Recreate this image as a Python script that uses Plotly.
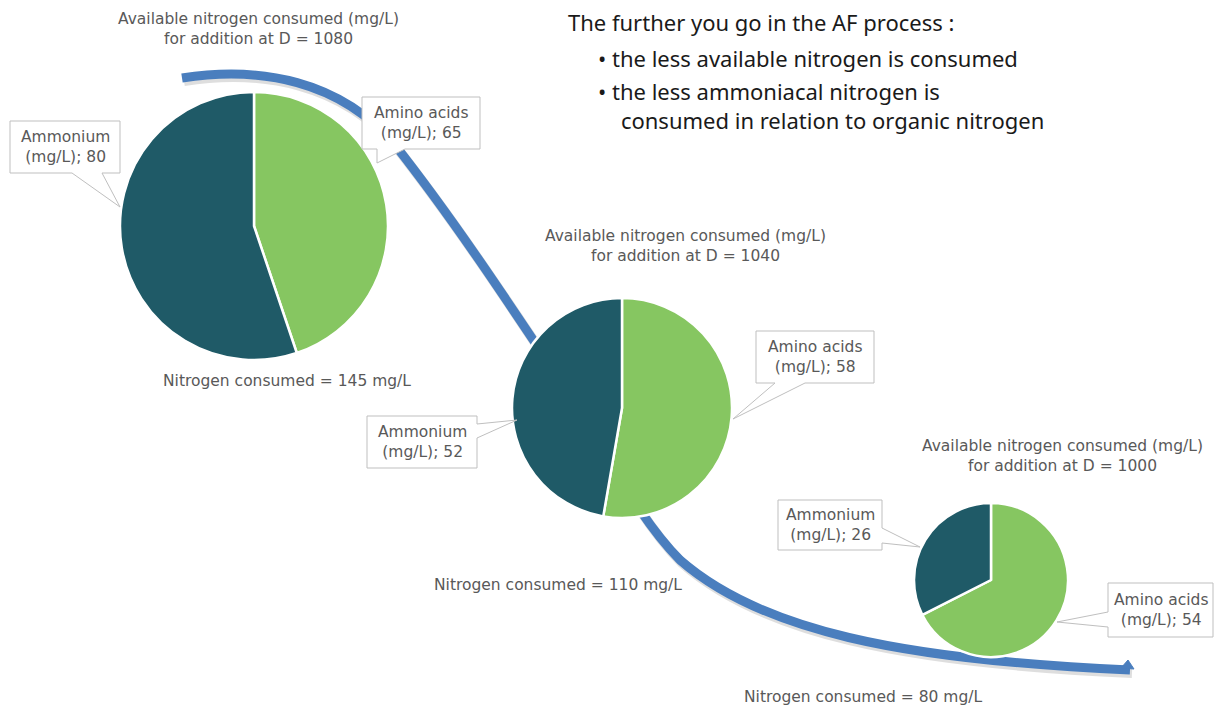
import plotly.graph_objects as go

# --- data ---------------------------------------------------------------
categories = ["Amino acids", "Ammonium"]
density_at_addition = [1080, 1040, 1000]
amino_acids_mg_l = [65, 58, 54]
ammonium_mg_l = [80, 52, 26]

W, H = 1220, 708
DARK = "#1F5A67"
GREEN = "#86C661"
GREY_TXT = "#595959"
BOX_LINE = "#BFBFBF"
CURVE = "#4A7EBE"
LABEL_FONT = dict(family="DejaVu Sans", size=15.5, color=GREY_TXT)

# pie layout: centre (px) and radius (px) for each stage
pie_geom = [(254, 226, 134), (622, 408, 110), (991, 580, 77)]
# title centre x, block centre y ; total label centre x, y
title_pos = [(258, 29), (685, 246), (1062, 456)]
total_pos = [(287, 381), (558, 585), (863, 697)]

# callouts: box (x0, y0, x1, y1), pointer side, base a, base b, tip (x, y)
callouts = [
    # stage 1
    {"Ammonium": ((10, 121, 120, 173), "bottom", 72, 102, (120, 207)),
     "Amino acids": ((362, 97, 480, 149), "bottom", 377, 405, (377, 163))},
    # stage 2
    {"Ammonium": ((367, 416, 477, 468), "right", 424, 438, (517, 420)),
     "Amino acids": ((756, 331, 874, 383), "bottom", 775, 805, (733, 419))},
    # stage 3
    {"Ammonium": ((778, 500, 882, 550), "right", 528, 543, (920, 547)),
     "Amino acids": ((1108, 583, 1213, 637), "left", 612, 627, (1057, 622))},
]


def callout_path(box, side, a, b, tip):
    x0, y0, x1, y1 = box
    tx, ty = tip
    if side == "bottom":
        pts = [(x0, y0), (x1, y0), (x1, y1), (b, y1), (tx, ty), (a, y1), (x0, y1)]
    elif side == "right":
        pts = [(x0, y0), (x1, y0), (x1, a), (tx, ty), (x1, b), (x1, y1), (x0, y1)]
    else:  # left
        pts = [(x0, y0), (x1, y0), (x1, y1), (x0, y1), (x0, b), (tx, ty), (x0, a)]
    return "M " + " L ".join(f"{x},{y}" for x, y in pts) + " Z"


fig = go.Figure()

# invisible pixel-space axes used for decorations and text
fig.add_trace(go.Scatter(x=[], y=[], showlegend=False, hoverinfo="skip"))

shapes = []
annotations = []

# the process curve (shadow, then the blue stroke)
curve_path = ("M 182,78 C 260,66 340,80 395,145 "
              "C 450,215 500,290 560,380 "
              "C 610,460 640,520 680,560 "
              "C 760,630 900,660 1130,670")
shadow_path = ("M 184,81 C 262,69 342,83 397,148 "
               "C 452,218 502,293 562,383 "
               "C 612,463 642,523 682,563 "
               "C 762,633 902,663 1132,673")
shapes.append(dict(type="path", path=shadow_path, xref="x", yref="y", layer="below",
                   line=dict(color="rgba(0,0,0,0.13)", width=10)))
shapes.append(dict(type="path", path=curve_path, xref="x", yref="y", layer="below",
                   line=dict(color=CURVE, width=9)))
shapes.append(dict(type="path", path="M 1121,668 L 1128,660 L 1134,669 Z",
                   xref="x", yref="y", layer="below",
                   fillcolor=CURVE, line=dict(color=CURVE, width=1)))

for i, (cx, cy, r) in enumerate(pie_geom):
    values = [amino_acids_mg_l[i], ammonium_mg_l[i]]
    fig.add_trace(go.Pie(
        labels=categories,
        values=values,
        sort=False,
        direction="clockwise",
        rotation=0,
        marker=dict(colors=[GREEN, DARK], line=dict(color="white", width=2.5)),
        textinfo="none",
        hoverinfo="label+value",
        showlegend=False,
        domain=dict(x=[(cx - r) / W, (cx + r) / W],
                    y=[1 - (cy + r) / H, 1 - (cy - r) / H]),
    ))

    tx, ty = title_pos[i]
    annotations.append(dict(
        x=tx, y=ty, xref="x", yref="y", showarrow=False,
        text=f"Available nitrogen consumed (mg/L)<br>for addition at D = {density_at_addition[i]}",
        font=LABEL_FONT, align="center", xanchor="center", yanchor="middle"))

    total = sum(values)
    sx, sy = total_pos[i]
    annotations.append(dict(
        x=sx, y=sy, xref="x", yref="y", showarrow=False,
        text=f"Nitrogen consumed = {total} mg/L",
        font=LABEL_FONT, xanchor="center", yanchor="middle"))

    for cat, val in zip(categories, values):
        box, side, a, b, tip = callouts[i][cat]
        shapes.append(dict(type="path", path=callout_path(box, side, a, b, tip),
                           xref="x", yref="y", layer="above",
                           fillcolor="white", line=dict(color=BOX_LINE, width=1)))
        x0, y0, x1, y1 = box
        annotations.append(dict(
            x=(x0 + x1) / 2, y=(y0 + y1) / 2, xref="x", yref="y", showarrow=False,
            text=f"{cat}<br>(mg/L); {val}", font=LABEL_FONT,
            align="center", xanchor="center", yanchor="middle"))

# headline notes
NOTE_FONT = dict(family="Noto Sans", size=22, color="#1A1A1A")
INDENT = "&nbsp;" * 4
notes = [
    (566, 22, "The further you go in the AF process :"),
    (596, 58, "\u2022 the less available nitrogen is consumed"),
    (596, 105, "\u2022 the less ammoniacal nitrogen is<br>"
               + INDENT + "consumed in relation to organic nitrogen"),
]
for nx, ny, txt in notes:
    annotations.append(dict(x=nx, y=ny, xref="x", yref="y", showarrow=False,
                            text=txt, font=NOTE_FONT, align="left",
                            xanchor="left", yanchor="middle"))

fig.update_layout(
    width=W, height=H,
    margin=dict(l=0, r=0, t=0, b=0),
    paper_bgcolor="white", plot_bgcolor="white",
    xaxis=dict(range=[0, W], visible=False, fixedrange=True, domain=[0, 1]),
    yaxis=dict(range=[H, 0], visible=False, fixedrange=True, domain=[0, 1]),
    shapes=shapes,
    annotations=annotations,
    showlegend=False,
)

fig.write_html("out.html")
